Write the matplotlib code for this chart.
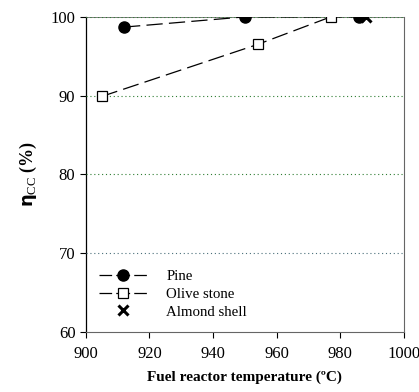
import matplotlib
matplotlib.use("Agg")
import matplotlib.pyplot as plt
from matplotlib.lines import Line2D

# Daten
pine_T = [912, 950, 986]
pine_eta = [98.7, 100, 100]
olive_T = [905, 954, 977]
olive_eta = [89.9, 96.5, 100]
almond_T = [988]
almond_eta = [100]

plt.rcParams['font.family'] = ['Liberation Serif', 'DejaVu Serif']
plt.rcParams['mathtext.fontset'] = 'custom'
plt.rcParams['mathtext.rm'] = 'Liberation Serif'
plt.rcParams['mathtext.bf'] = 'DejaVu Sans:bold'

fig = plt.figure(figsize=(4.19, 3.92), dpi=100)
ax = fig.add_axes([0.205, 0.153, 0.759, 0.804])

ax.plot(pine_T, pine_eta, color='black', linestyle=(0, (13, 5)), linewidth=0.9,
        marker='o', markersize=8, markerfacecolor='black', zorder=3)
ax.plot(olive_T, olive_eta, color='black', linestyle=(0, (13, 5)), linewidth=0.9,
        marker='s', markersize=7, markerfacecolor='white', markeredgewidth=0.9, zorder=3)
ax.plot(almond_T, almond_eta, linestyle='none', marker='x', markersize=7,
        markeredgewidth=2.2, color='black', zorder=4)

ax.set_xlim(900, 1000)
ax.set_ylim(60, 100)
ax.set_xticks(range(900, 1001, 20))
ax.set_yticks(range(60, 101, 10))
ax.tick_params(direction='out', length=4, labelsize=12, width=0.8)
ax.tick_params(axis='x', pad=6)

# gepunktete Gitterlinien
for y, c in zip([70, 80, 90, 100], ['#4a6f7a', '#2e7d32', '#2e7d32', '#2e7d32']):
    ax.axhline(y, color=c, linestyle=(0, (1, 2.5)), linewidth=0.8, zorder=2.6)

for s in ['top', 'right', 'bottom']:
    ax.spines[s].set_color('#666666')
ax.spines['top'].set_linewidth(0.6)
ax.spines['left'].set_linewidth(0.9)

ax.set_xlabel('Fuel reactor temperature (ºC)', fontsize=11, fontweight='bold', labelpad=6)

# y-Achsenbeschriftung: eta fett, Index CC
ax.set_ylabel(r'$\mathbf{\eta}_{\mathrm{CC}}$ (%)', fontsize=13, fontweight='bold', labelpad=8)

# Legende mit symmetrischen Strichen
leg_ls = (0, (10.1, 3.3, 11.1, 3.3, 10.1, 100))
handles = [
    Line2D([], [], color='black', linestyle=leg_ls, linewidth=0.9, marker='o',
           markersize=8, markerfacecolor='black', label='Pine'),
    Line2D([], [], color='black', linestyle=leg_ls, linewidth=0.9, marker='s',
           markersize=7, markerfacecolor='white', markeredgewidth=0.9, label='Olive stone'),
    Line2D([], [], color='black', linestyle='none', marker='x', markersize=7,
           markeredgewidth=2.2, label='Almond shell'),
]
ax.legend(handles=handles, loc='lower left', bbox_to_anchor=(0.0, 0.0), frameon=False,
          fontsize=10.7, handlelength=3.2, labelspacing=0.3, handletextpad=1.3)

fig.savefig('out.png', dpi=100)
